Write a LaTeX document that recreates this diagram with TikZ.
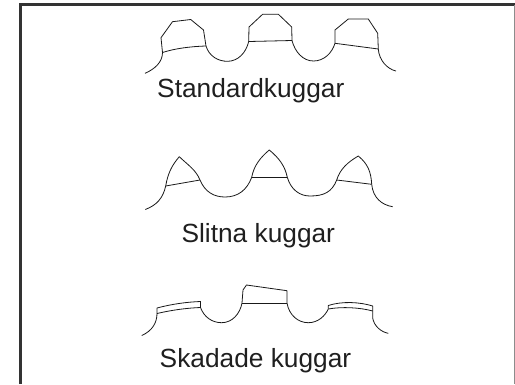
\documentclass[tikz,border=0pt]{standalone}
\usepackage{fontspec}
\setmainfont{Liberation Sans}
\begin{document}
\begin{tikzpicture}[x=1pt,y=-1pt,
  gear/.style={line width=0.8pt, draw=black!90, line join=round},
  frame/.style={line width=2.6pt, draw=black!80},
  caption/.style={anchor=base, inner sep=0pt, text=black!88,
    font=\fontsize{26.3}{30}\selectfont}]
\useasboundingbox (0,0) rectangle (515,384);

% frame
\draw[frame] (20.5,384) -- (20.5,4.2) -- (515,4.2);
\draw[line width=1pt, draw=black!45] (514.3,5) -- (514.3,384);

% standard teeth
\draw[gear] (145,73.3) .. controls (155,69) and (162.5,62) .. (162.5,52.5)
  -- (161,37.7) -- (172.5,21.7) -- (190.7,19.5) -- (203.5,30) -- (206,46)
  .. controls (209,56) and (218,61.5) .. (228,61.3)
  .. controls (238,61) and (246,53) .. (248.7,41.5)
  -- (249,27) -- (262.7,14.2) -- (278.3,14.2) -- (291.7,27) -- (292,40.5)
  .. controls (295,52) and (303,61) .. (313.5,61)
  .. controls (324,61) and (332,53) .. (335,43.3)
  -- (335,30) -- (348.3,19) -- (368.3,19) -- (377.7,33.3) -- (378.3,49)
  .. controls (379,60) and (387,69) .. (396,71);
\draw[gear] (162.5,52.5) .. controls (175,48.5) and (190,46.5) .. (206,46);
\draw[gear] (248.7,41.5) -- (292,40.5);
\draw[gear] (335,43.3) -- (378.3,49);
\node[caption] (standard) at (250.8,97.3) {Standardkuggar};

% worn teeth
\draw[gear] (145.3,209.5) .. controls (157,205) and (163,198) .. (165.7,186)
  .. controls (168,172) and (173,164) .. (179.3,156.7)
  .. controls (188,165) and (196,170) .. (200,180)
  .. controls (205,192) and (214,197) .. (225,197)
  .. controls (238,197) and (247,190) .. (251.7,177.3)
  .. controls (254,165) and (261,157) .. (269.3,150)
  .. controls (279,158) and (285,166) .. (287.3,177.3)
  .. controls (291,190) and (300,196) .. (310,196)
  .. controls (324,196) and (332,192) .. (336.7,180)
  .. controls (340,169) and (348,162) .. (358.3,156)
  .. controls (368,164) and (371,172) .. (371.7,184.3)
  .. controls (373,198) and (382,205) .. (392.7,206.7);
\draw[gear] (165.7,186) -- (200,180);
\draw[gear] (251.7,177.3) -- (287.3,177.3);
\draw[gear] (336.7,180) -- (371.7,184.3);
\node[caption] (worn) at (258.3,242) {Slitna kuggar};

% damaged teeth
\draw[gear] (141.7,335.5) .. controls (152,331) and (157,323) .. (157,313.5)
  -- (157,308) .. controls (172,304) and (187,302) .. (200.5,301.5)
  -- (200.5,307.5)
  .. controls (204,317) and (212,322.7) .. (221.7,322.7)
  .. controls (232,322.7) and (240,314) .. (242,303)
  -- (243,290) -- (246.5,285) -- (287,290.7) -- (287,303)
  .. controls (289,315) and (298,322.7) .. (308.3,322.7)
  .. controls (318,322.7) and (325,316) .. (328.3,309)
  -- (328.3,305.5) .. controls (342,301) and (360,302) .. (372.7,306)
  -- (372.7,318)
  .. controls (374,326) and (381,332) .. (388.3,333.3);
\draw[gear] (157,313.5) .. controls (172,310) and (187,308) .. (200.5,307.5);
\draw[gear] (242,303) -- (287,303);
\draw[gear] (328.3,309) .. controls (342,306.5) and (360,307.5) .. (372.7,311);
\node[caption] (damaged) at (255.5,367.3) {Skadade kuggar};
\end{tikzpicture}
\end{document}
